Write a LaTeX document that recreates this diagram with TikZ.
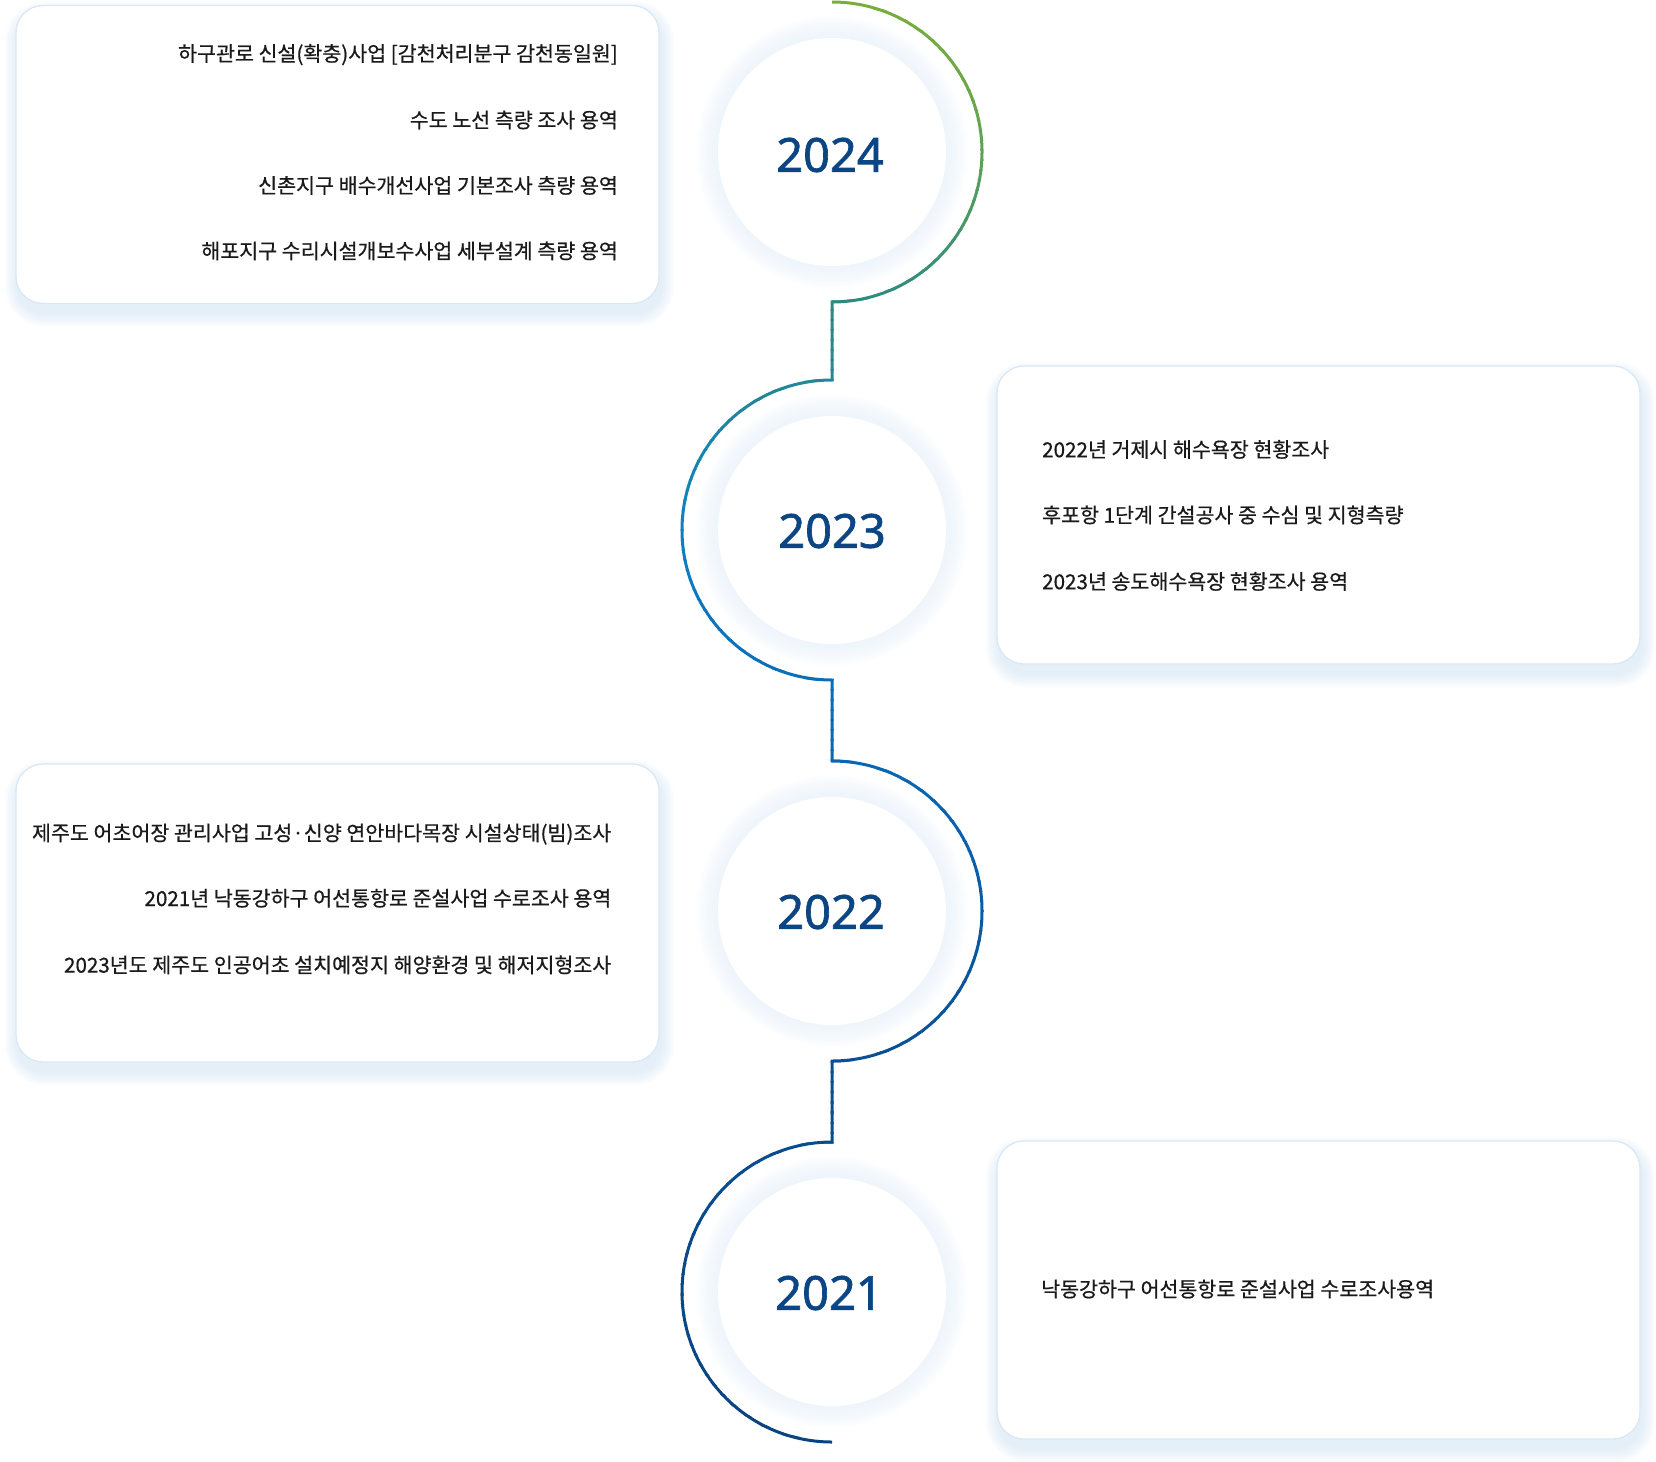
\documentclass[tikz,border=0pt]{standalone}
\usepackage{fontspec}
\setmainfont{Noto Sans CJK KR}[FakeBold=0.6]
\newfontfamily\yearfont{Noto Sans}[FakeBold=1.4]
\usetikzlibrary{calc}

\pgfdeclarelayer{background}
\pgfsetlayers{background,main}

\definecolor{yearblue}{HTML}{0B4584}
\definecolor{txt}{HTML}{1A1A1A}
\definecolor{boxline}{HTML}{DAE8F5}
\definecolor{shadowblue}{HTML}{C6DCF0}
\definecolor{glow}{HTML}{E1EDF8}
% timeline colour stops, top to bottom
\definecolor{g0}{HTML}{7BAE3B}
\definecolor{g1}{HTML}{5FA355}
\definecolor{g2}{HTML}{2E8B7F}
\definecolor{g3}{HTML}{0F80C4}
\definecolor{g4}{HTML}{0A6DB8}
\definecolor{g5}{HTML}{0A5BA5}
\definecolor{g6}{HTML}{0B4F93}
\definecolor{g7}{HTML}{08447F}

\begin{document}
\begin{tikzpicture}[x=1pt,y=1pt,
  card/.style={draw=boxline, line width=1.3pt, fill=white, rounded corners=27pt,
    minimum width=643pt, minimum height=298pt, inner sep=0pt},
  itemR/.style={anchor=base east, font=\fontsize{20.6}{24}\selectfont, text=txt, inner sep=0pt},
  itemL/.style={anchor=base west, font=\fontsize{20.6}{24}\selectfont, text=txt, inner sep=0pt},
  yearc/.style={circle, minimum size=228pt, inner sep=0pt, fill=white},
  yeartext/.style={text=yearblue, font=\yearfont\fontsize{47}{47}\selectfont, inner sep=0pt},
  tl/.style={line width=3pt, line join=miter}
]
\useasboundingbox (0,0) rectangle (1656,-1461);

% year discs
\node[yearc] (c2024) at (832,-152) {};
\node[yearc] (c2023) at (832,-530) {};
\node[yearc] (c2022) at (832,-911) {};
\node[yearc] (c2021) at (832,-1292) {};
\node[yeartext] (y2024) at ($(c2024.center)+(-2,-3)$) {2024};
\node[yeartext] (y2023) at ($(c2023.center)+(0,-1)$) {2023};
\node[yeartext] (y2022) at ($(c2022.center)+(-1,-1)$) {2022};
\node[yeartext] (y2021) at ($(c2021.center)+(-3,-1)$) {2021};

% soft halo round each disc
\begin{pgfonlayer}{background}
  \foreach \c in {c2024,c2023,c2022,c2021}{
    \foreach \r in {136,134,...,114}{
      \fill[glow, opacity=0.075] (\c.center) circle[radius=\r];
    }
  }
\end{pgfonlayer}

% where each half-ring begins
\coordinate (top2024) at ($(c2024.center)+(0,150)$);
\coordinate (top2023) at ($(c2023.center)+(0,150)$);
\coordinate (top2022) at ($(c2022.center)+(0,150)$);
\coordinate (top2021) at ($(c2021.center)+(0,150)$);

% timeline stroke, coloured band by band from top to bottom
\foreach \ya/\yb/\ca/\cb/\n in {0/150/g0/g1/15, 150/300/g1/g2/15, 300/530/g2/g3/23,
    530/680/g3/g4/15, 680/911/g4/g5/23, 911/1062/g5/g6/15, 1062/1446/g6/g7/38}{
  \foreach \k in {1,...,\n}{
    \pgfmathsetmacro\ytop{-(\ya+(\yb-\ya)*(\k-1)/\n)+0.6}
    \pgfmathsetmacro\ybot{-(\ya+(\yb-\ya)*\k/\n)-0.6}
    \pgfmathsetmacro\pc{100*(1-(\k-0.5)/\n)}
    \begin{scope}
      \clip (600,\ytop) rectangle (1000,\ybot);
      \draw[tl, draw=\ca!\pc!\cb]
        (top2024) arc[start angle=90, end angle=-90, radius=150]
        -- (top2023) arc[start angle=90, end angle=270, radius=150]
        -- (top2022) arc[start angle=90, end angle=-90, radius=150]
        -- (top2021) arc[start angle=90, end angle=270, radius=150];
    \end{scope}
  }
}

% cards
\node[card] (b2024) at (337.5,-154.5) {};
\node[card] (b2023) at (1318.5,-515) {};
\node[card] (b2022) at (337.5,-913) {};
\node[card] (b2021) at (1318.5,-1290) {};

% soft shadows under the cards
\begin{pgfonlayer}{background}
  \foreach \b in {b2024,b2023,b2022,b2021}{
    \foreach \s in {1,...,14}{
      \pgfmathsetmacro\rr{27+\s}
      \fill[shadowblue, opacity=0.045, rounded corners=\rr pt]
        ($(\b.south west)+(3-\s,-9-\s)$) rectangle ($(\b.north east)+(1+\s,-10+\s)$);
    }
  }
\end{pgfonlayer}

% 2024 items
\node[itemR] (i24a) at (618,-61.2) {하구관로 신설(확충)사업 [감천처리분구 감천동일원]};
\node[itemR] (i24b) at (618,-127.7) {수도 노선 측량 조사 용역};
\node[itemR] (i24c) at (618,-193.2) {신촌지구 배수개선사업 기본조사 측량 용역};
\node[itemR] (i24d) at (618,-258.6) {해포지구 수리시설개보수사업 세부설계 측량 용역};

% 2023 items
\node[itemL] (i23a) at (1042,-457.2) {2022년 거제시 해수욕장 현황조사};
\node[itemL] (i23b) at (1042,-522.7) {후포항 1단계 간설공사 중 수심 및 지형측량};
\node[itemL] (i23c) at (1042,-589.2) {2023년 송도해수욕장 현황조사 용역};

% 2022 items
\node[itemR] (i22a) at (611.5,-840.6) {제주도 어초어장 관리사업 고성·신양 연안바다목장 시설상태(빔)조사};
\node[itemR] (i22b) at (611.5,-906) {2021년 낙동강하구 어선통항로 준설사업 수로조사 용역};
\node[itemR] (i22c) at (611.5,-972.6) {2023년도 제주도 인공어초 설치예정지 해양환경 및 해저지형조사};

% 2021 item
\node[itemL] (i21a) at (1041,-1296.8) {낙동강하구 어선통항로 준설사업 수로조사용역};
\end{tikzpicture}
\end{document}
